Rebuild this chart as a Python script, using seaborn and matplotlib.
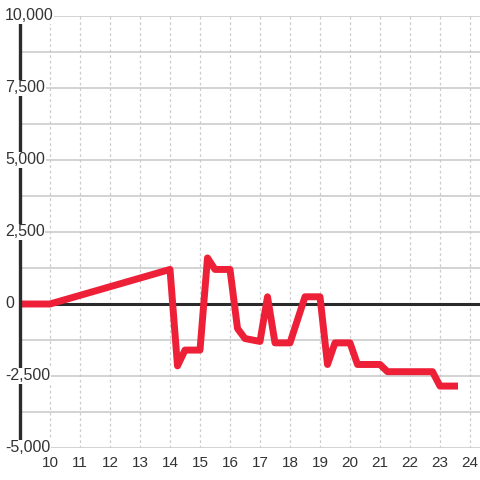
import matplotlib
matplotlib.use("Agg")
import matplotlib.pyplot as plt
import seaborn as sns
import pandas as pd

hours = [9, 10, 14, 14.25, 14.5, 15, 15.25, 15.5, 16, 16.25, 16.5, 17, 17.25, 17.5,
         18, 18.5, 19, 19.25, 19.5, 20, 20.25, 21, 21.25, 22.75, 23, 23.6]
values = [0, 0, 1200, -2150, -1600, -1600, 1600, 1200, 1200, -850, -1200, -1300, 250,
          -1350, -1350, 250, 250, -2100, -1350, -1350, -2100, -2100, -2350, -2350,
          -2850, -2850]
x_ticks = [10, 11, 12, 13, 14, 15, 16, 17, 18, 19, 20, 21, 22, 23, 24]
y_label_ticks = [-5000, -2500, 0, 2500, 5000, 7500, 10000]
y_grid = [-5000, -3750, -2500, -1250, 0, 1250, 2500, 3750, 5000, 6250, 7500, 8750, 10000]

sns.set_style("white")
plt.rcParams['font.family'] = ['Liberation Sans', 'DejaVu Sans']

df = pd.DataFrame({"hour": hours, "value": values})

fig = plt.figure(figsize=(4.8, 4.8), dpi=100)
ax = fig.add_axes([20/480, 32/480, 460/480, 432/480])
ax.set_xlim(9, 9 + 460/30)
ax.set_ylim(-5000, 10000)

for v in y_grid:
    ax.axhline(v, color="#c8c8c8", lw=1.1, zorder=1)
for xv in x_ticks:
    ax.axvline(xv, color="#cccccc", lw=0.9, ls=(0, (2.2, 2.2)), zorder=1)

ax.axhline(0, color="#2b2b2b", lw=2.2, zorder=3)

sns.lineplot(data=df, x="hour", y="value", ax=ax, color="#EE2038", lw=5,
             zorder=4, solid_capstyle="butt", solid_joinstyle="round",
             estimator=None, sort=False)

for s in ["top", "right", "bottom"]:
    ax.spines[s].set_visible(False)
ax.spines["left"].set_color("#2b2b2b")
ax.spines["left"].set_linewidth(2.4)
ax.spines["left"].set_zorder(5)

ax.set_xticks(x_ticks)
ax.set_xticklabels([str(t) for t in x_ticks], fontsize=11, color="#333333")
ax.tick_params(axis="x", length=0, pad=6)
ax.set_yticks([])
ax.set_xlabel("")
ax.set_ylabel("")

for v in y_label_ticks:
    ax.text(9 - 15/30, v, f"{v:,}", ha="left", va="center",
            fontsize=11.5, color="#333333", zorder=10, clip_on=False,
            bbox=dict(facecolor="white", edgecolor="none", pad=0.5))

fig.savefig("out.png", dpi=100)
